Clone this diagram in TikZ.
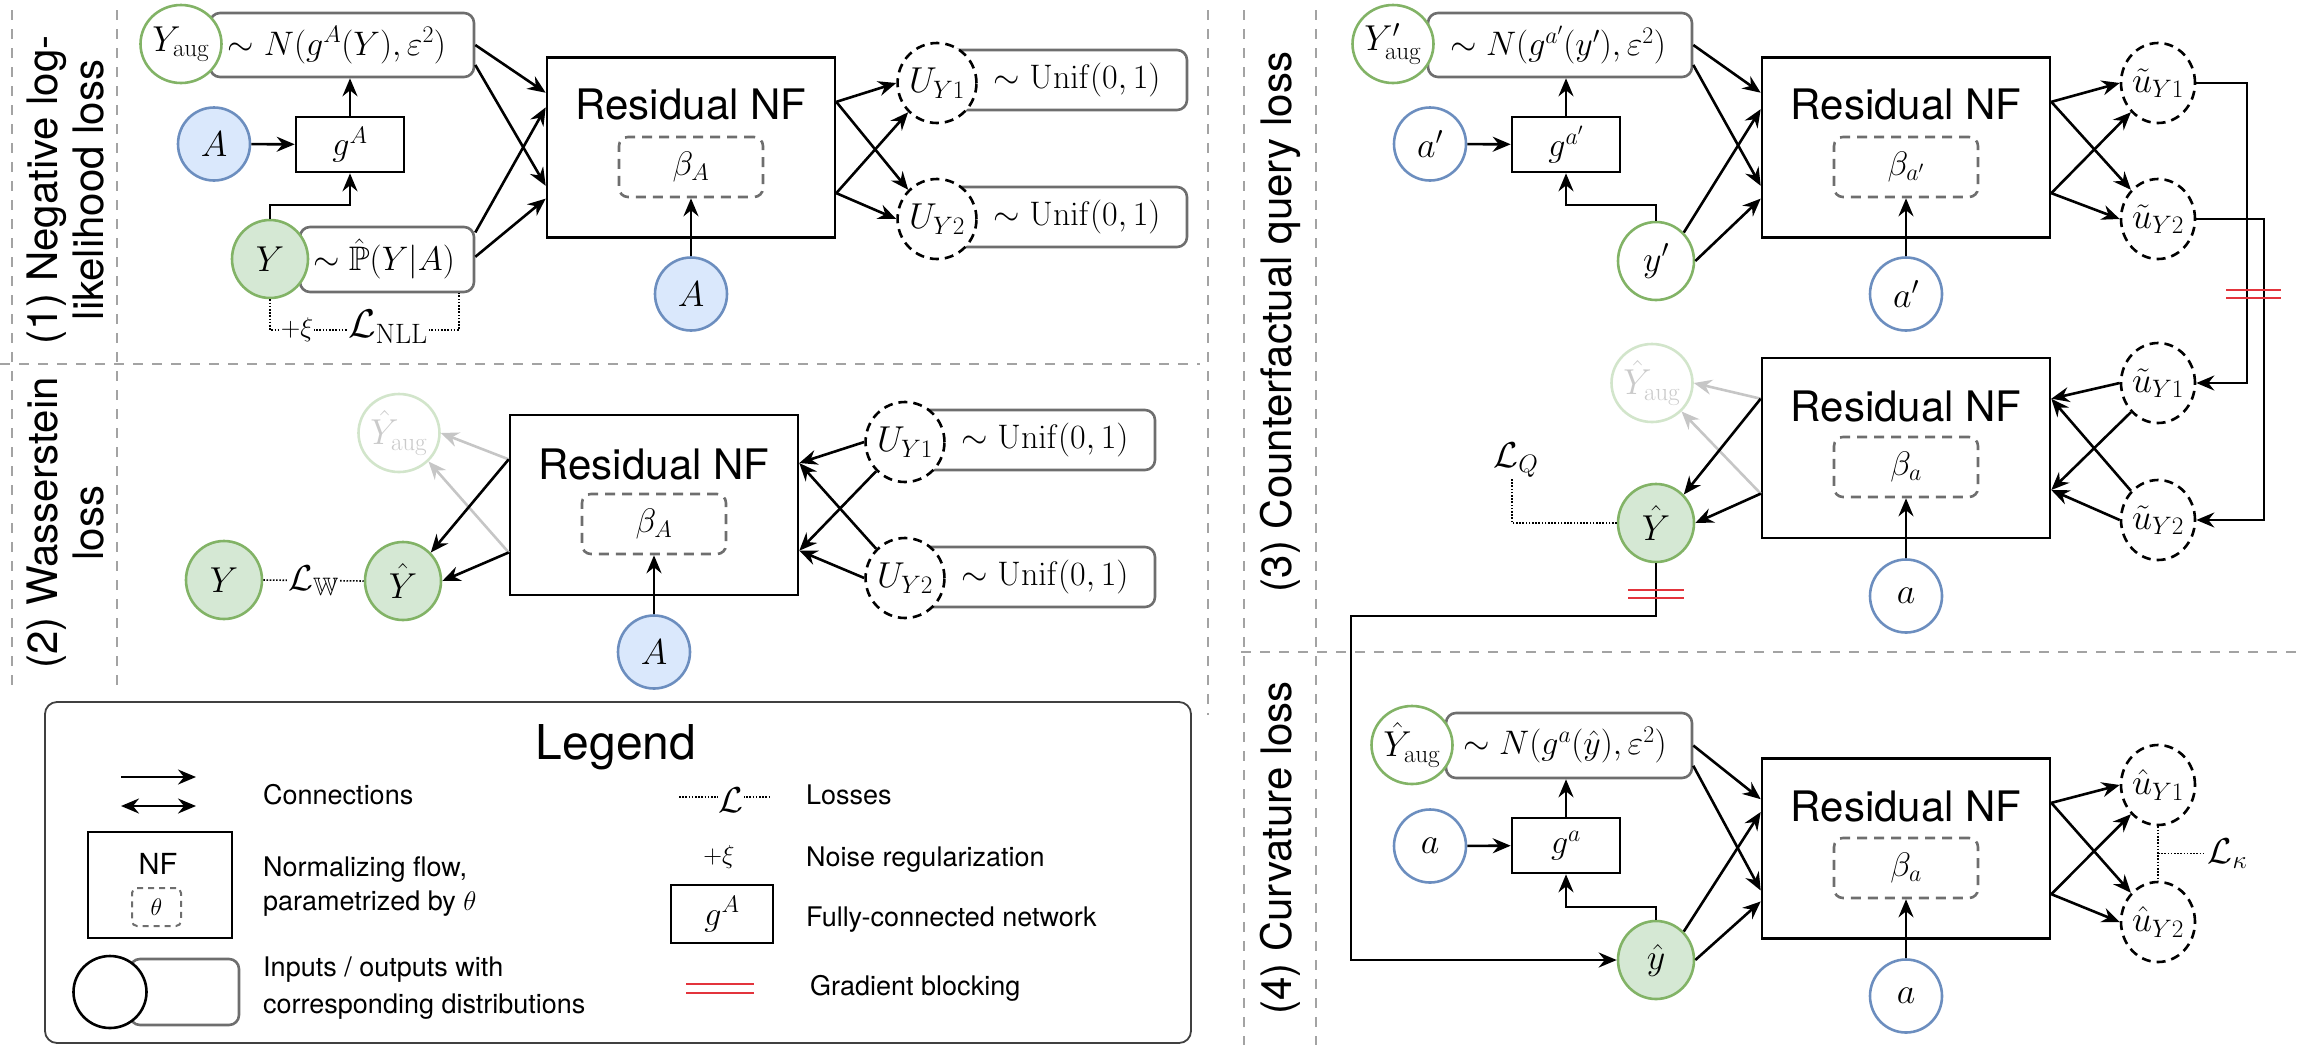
\RequirePackage{fix-cm}
\documentclass[tikz,border=0pt]{standalone}
\usepackage[no-math]{fontspec}
\usepackage{amsmath,amssymb}
\newfontfamily\hv{TeX Gyre Heros}
\usetikzlibrary{shapes.geometric,arrows.meta,calc}
\definecolor{gborder}{HTML}{82B366}
\definecolor{gfill}{HTML}{D5E8D4}
\definecolor{bborder}{HTML}{6C8EBF}
\definecolor{bfill}{HTML}{DAE8FC}
\definecolor{distgray}{HTML}{6E6E6E}
\definecolor{sepgray}{HTML}{A3A3A3}
\definecolor{fadeg}{HTML}{D2E5CB}
\definecolor{fadetext}{HTML}{CACACA}
\definecolor{fadearrow}{HTML}{C6C6C6}
\definecolor{blockred}{HTML}{E3343C}
\newcommand\mathsz{\fontsize{34}{40}\selectfont}
\newcommand\circsz{\fontsize{36}{40}\selectfont}
\newcommand\titlesz{\hv\fontsize{42}{46}\selectfont}
\newcommand\legsz{\hv\fontsize{27}{32}\selectfont}
\begin{document}
\begin{tikzpicture}[x=1pt,y=-1pt,
  >={Stealth[length=18pt,width=15pt,inset=6pt]},
  lw/.style={line width=2.6pt},
  arr/.style={lw,->},
  farr/.style={lw,->,draw=fadearrow},
  nfbox/.style={draw,lw,minimum width=288pt,minimum height=180pt,inner sep=0pt},
  nftitle/.style={font=\titlesz,inner sep=0pt},
  betabox/.style={draw=distgray,lw,dash pattern=on 10pt off 7pt,rounded corners=9pt,minimum width=144pt,minimum height=60pt,font=\mathsz,inner sep=0pt},
  gbox/.style={draw,lw,minimum width=108pt,minimum height=55pt,font=\mathsz,inner sep=0pt},
  distbox/.style={draw=distgray,lw,rounded corners=10pt,fill=white,inner sep=0pt},
  disttext/.style={font=\mathsz,inner sep=0pt},
  circ/.style={ellipse,lw,fill=white,minimum width=76pt,minimum height=78pt,inner sep=0pt,font=\circsz},
  gcirc/.style={circ,draw=gborder},
  gcircf/.style={circ,draw=gborder,fill=gfill},
  bcirc/.style={circ,draw=bborder,minimum width=72pt,minimum height=73pt},
  bcircf/.style={bcirc,fill=bfill},
  ucirc/.style={circ,draw=black,dash pattern=on 9pt off 6pt,minimum width=74pt,minimum height=80pt},
  fadecirc/.style={circ,draw=fadeg,text=fadetext},
  panelsep/.style={draw=sepgray,line width=2.6pt,dash pattern=on 10pt off 9pt},
  loss/.style={line width=1.6pt,dash pattern=on 1.6pt off 1.6pt},
  lossl/.style={fill=white,font=\circsz,inner sep=1pt},
  plabel/.style={rotate=90,font=\titlesz,align=center},
  gradblock/.style={draw=blockred,line width=2.4pt},
  legtext/.style={font=\legsz,anchor=west,inner sep=0pt},
  unifbox/.style={distbox,minimum width=240pt,minimum height=60pt}
]
\useasboundingbox (0,0) rectangle (2305,1045);

% ---------- panel separators ----------
\draw[panelsep] (12,10) -- (12,690);
\draw[panelsep] (117,10) -- (117,690);
\draw[panelsep] (0,364) -- (1200,364);
\draw[panelsep] (1208,10) -- (1208,715);
\draw[panelsep] (1244,10) -- (1244,1045);
\draw[panelsep] (1316,10) -- (1316,1045);
\draw[panelsep] (1241,652) -- (2305,652);

% ---------- panel labels ----------
\node[plabel] (lab1) at (66,190) {(1) Negative log-\\likelihood loss};
\node[plabel] (lab2) at (66,523) {(2) Wasserstein\\loss};
\node[plabel] (lab3) at (1280,322) {(3) Counterfactual query loss};
\node[plabel] (lab4) at (1280,848) {(4) Curvature loss};

% ================= PANEL 1 =================
\node[distbox,minimum width=264pt,minimum height=64pt] (d1a) at (342,45) {};
\node[disttext] (d1at) at (337,45) {$\sim N(g^A(Y),\varepsilon^2)$};
\node[gcirc] (ya1) at (181,44) {$Y_{\mathrm{aug}}$};
\node[bcircf] (A1) at (214,144) {$A$};
\node[gbox] (g1) at (350,144.5) {$g^A$};
\node[distbox,minimum width=174pt,minimum height=65pt] (d1y) at (387,259.5) {};
\node[disttext] (d1yt) at (384,259) {$\sim\hat{\mathbb{P}}(Y|A)$};
\node[gcircf] (Y1) at (270,259) {$Y$};
\node[nfbox] (nf1) at (691,147.5) {};
\node[nftitle] (t1) at (691,105) {Residual NF};
\node[betabox] (b1) at (691,167) {$\beta_A$};
\node[bcircf] (A1b) at (691,294) {$A$};
\node[unifbox] (un11) at (1067,80) {};
\node[unifbox] (un12) at (1067,217) {};
\node[disttext] (un11t) at (1077,80) {$\sim\mathrm{Unif}(0,1)$};
\node[disttext] (un12t) at (1077,217) {$\sim\mathrm{Unif}(0,1)$};
\node[ucirc] (u11) at (937,83) {$U_{Y1}$};
\node[ucirc] (u12) at (937,219) {$U_{Y2}$};

\path (nf1.north west) -- (nf1.south west) coordinate[pos=.2] (n1l1) coordinate[pos=.28] (n1l2) coordinate[pos=.71] (n1l3) coordinate[pos=.78] (n1l4);
\path (nf1.north east) -- (nf1.south east) coordinate[pos=.25] (n1r1) coordinate[pos=.75] (n1r2);
\path (d1a.north east) -- (d1a.south east) coordinate[pos=.5] (d1ar1) coordinate[pos=.8] (d1ar2);
\path (d1y.north east) -- (d1y.south east) coordinate[pos=.1] (d1yr1) coordinate[pos=.46] (d1yr2);

\draw[arr] (A1) -- (g1);
\draw[arr] (g1.north) -- (g1.north |- d1a.south);
\coordinate (c1) at (270,205);
\draw[arr] (Y1.north) -- (c1) -| (g1.south);
\draw[arr] (d1ar1) -- (n1l1);
\draw[arr] (d1ar2) -- (n1l3);
\draw[arr] (d1yr1) -- (n1l2);
\draw[arr] (d1yr2) -- (n1l4);
\draw[arr] (A1b.north) -- (b1.south);
\draw[arr] (n1r1) -- (u11.west);
\draw[arr] (n1r1) -- (u12.north west);
\draw[arr] (n1r2) -- (u11.south west);
\draw[arr] (n1r2) -- (u12.west);
\coordinate (l1a) at (270,330);
\coordinate (l1b) at (459,330);
\draw[loss] (Y1.south) -- (l1a) -- (l1b) -- (l1b |- d1y.south);
\node[lossl,font=\fontsize{27}{30}\selectfont] (xi1) at (297,330) {$+\xi$};
\node[lossl,font=\fontsize{40}{44}\selectfont] (lnll) at (388,327) {$\mathcal{L}_{\mathrm{NLL}}$};

% ================= PANEL 2 =================
\node[fadecirc] (yha2) at (399,433) {$\hat{Y}_{\mathrm{aug}}$};
\node[gcircf] (Y2) at (224,580) {$Y$};
\node[gcircf] (Yh2) at (403,581) {$\hat{Y}$};
\node[nfbox] (nf2) at (654,505) {};
\node[nftitle] (t2) at (654,464) {Residual NF};
\node[betabox] (b2) at (654,524) {$\beta_A$};
\node[bcircf] (A2) at (654,652) {$A$};
\node[unifbox] (un21) at (1035,440) {};
\node[unifbox] (un22) at (1035,577) {};
\node[disttext] (un21t) at (1045,440) {$\sim\mathrm{Unif}(0,1)$};
\node[disttext] (un22t) at (1045,577) {$\sim\mathrm{Unif}(0,1)$};
\node[ucirc] (u21) at (905,442) {$U_{Y1}$};
\node[ucirc] (u22) at (905,578) {$U_{Y2}$};

\path (nf2.north west) -- (nf2.south west) coordinate[pos=.25] (n2l1) coordinate[pos=.76] (n2l2);
\path (nf2.north east) -- (nf2.south east) coordinate[pos=.27] (n2r1) coordinate[pos=.75] (n2r2);
\draw[farr] (n2l1) -- (yha2.east);
\draw[farr] (n2l2) -- (yha2.south east);
\draw[arr] (n2l1) -- (Yh2.north east);
\draw[arr] (n2l2) -- (Yh2.east);
\draw[arr] (u21.west) -- (n2r1);
\draw[arr] (u21.south west) -- (n2r2);
\draw[arr] (u22.north west) -- (n2r1);
\draw[arr] (u22.west) -- (n2r2);
\draw[arr] (A2.north) -- (b2.south);
\draw[loss] (Y2.east) -- (Yh2.west) node[midway,lossl] (lw2) {$\mathcal{L}_{\mathbb{W}}$};

% ================= PANEL 3 (top) =================
\node[distbox,minimum width=264pt,minimum height=64pt] (d3a) at (1560,45) {};
\node[disttext] (d3at) at (1558,45) {$\sim N(g^{a'}(y'),\varepsilon^2)$};
\node[gcirc] (ya3) at (1393,44) {$Y'_{\mathrm{aug}}$};
\node[bcirc] (a3) at (1430,144) {$a'$};
\node[gbox] (g3) at (1566,144.5) {$g^{a'}$};
\node[gcirc] (yp3) at (1656,261) {$y'$};
\node[nfbox] (nf3) at (1906,147.5) {};
\node[nftitle] (t3) at (1906,105) {Residual NF};
\node[betabox] (b3) at (1906,167) {$\beta_{a'}$};
\node[bcirc] (a3b) at (1906,294) {$a'$};
\node[ucirc] (ut31) at (2158,83) {$\tilde{u}_{Y1}$};
\node[ucirc] (ut32) at (2158,219) {$\tilde{u}_{Y2}$};

\path (nf3.north west) -- (nf3.south west) coordinate[pos=.2] (n3l1) coordinate[pos=.29] (n3l2) coordinate[pos=.71] (n3l3) coordinate[pos=.78] (n3l4);
\path (nf3.north east) -- (nf3.south east) coordinate[pos=.25] (n3r1) coordinate[pos=.75] (n3r2);
\path (d3a.north east) -- (d3a.south east) coordinate[pos=.5] (d3ar1) coordinate[pos=.8] (d3ar2);
\draw[arr] (a3) -- (g3);
\draw[arr] (g3.north) -- (g3.north |- d3a.south);
\coordinate (c3) at (1656,205);
\draw[arr] (yp3.north) -- (c3) -| (g3.south);
\draw[arr] (d3ar1) -- (n3l1);
\draw[arr] (d3ar2) -- (n3l3);
\draw[arr] (yp3.north east) -- (n3l2);
\draw[arr] (yp3.east) -- (n3l4);
\draw[arr] (a3b.north) -- (b3.south);
\draw[arr] (n3r1) -- (ut31.west);
\draw[arr] (n3r1) -- (ut32.north west);
\draw[arr] (n3r2) -- (ut31.south west);
\draw[arr] (n3r2) -- (ut32.west);

% ================= PANEL 3 (bottom) =================
\node[fadecirc] (yha3) at (1652,383) {$\hat{Y}_{\mathrm{aug}}$};
\node[gcircf] (Yh3) at (1656,523) {$\hat{Y}$};
\node[nfbox] (nf3b) at (1906,448) {};
\node[nftitle] (t3b) at (1906,406) {Residual NF};
\node[betabox] (b3b) at (1906,467) {$\beta_a$};
\node[bcirc] (a3c) at (1906,596) {$a$};
\node[ucirc] (ut33) at (2158,383) {$\tilde{u}_{Y1}$};
\node[ucirc] (ut34) at (2158,520) {$\tilde{u}_{Y2}$};

\path (nf3b.north west) -- (nf3b.south west) coordinate[pos=.23] (n3bl1) coordinate[pos=.75] (n3bl2);
\path (nf3b.north east) -- (nf3b.south east) coordinate[pos=.23] (n3br1) coordinate[pos=.73] (n3br2);
\draw[farr] (n3bl1) -- (yha3.east);
\draw[farr] (n3bl2) -- (yha3.south east);
\draw[arr] (n3bl1) -- (Yh3.north east);
\draw[arr] (n3bl2) -- (Yh3.east);
\draw[arr] (ut33.west) -- (n3br1);
\draw[arr] (ut33.south west) -- (n3br2);
\draw[arr] (ut34.north west) -- (n3br1);
\draw[arr] (ut34.west) -- (n3br2);
\draw[arr] (a3c.north) -- (b3b.south);

% feedback lines
\coordinate (k1) at (2247,150);
\coordinate (k2) at (2264,300);
\draw[arr] (ut31.east) -| (k1) |- (ut33.east);
\draw[arr] (ut32.east) -| (k2) |- (ut34.east);
\draw[gradblock] (2226,290) -- (2281,290);
\draw[gradblock] (2226,298) -- (2281,298);

% loss Q
\coordinate (lq) at (1512,479);
\draw[loss] (Yh3.west) -| (lq);
\node[anchor=south,font=\circsz,inner sep=2pt] (lqt) at (1516,480) {$\mathcal{L}_Q$};

% ================= PANEL 4 =================
\node[distbox,minimum width=246pt,minimum height=65pt] (d4a) at (1569,745.5) {};
\node[disttext] (d4at) at (1565,745) {$\sim N(g^a(\hat{y}),\varepsilon^2)$};
\node[gcirc] (ya4) at (1412,745) {$\hat{Y}_{\mathrm{aug}}$};
\node[bcirc] (a4) at (1430,846) {$a$};
\node[gbox] (g4) at (1566,845.5) {$g^a$};
\node[gcircf] (yh4) at (1656,960) {$\hat{y}$};
\node[nfbox] (nf4) at (1906,848.5) {};
\node[nftitle] (t4) at (1906,806) {Residual NF};
\node[betabox] (b4) at (1906,868) {$\beta_a$};
\node[bcirc] (a4b) at (1906,996) {$a$};
\node[ucirc] (uh41) at (2158,785) {$\hat{u}_{Y1}$};
\node[ucirc] (uh42) at (2158,922) {$\hat{u}_{Y2}$};

\path (nf4.north west) -- (nf4.south west) coordinate[pos=.23] (n4l1) coordinate[pos=.3] (n4l2) coordinate[pos=.73] (n4l3) coordinate[pos=.79] (n4l4);
\path (nf4.north east) -- (nf4.south east) coordinate[pos=.25] (n4r1) coordinate[pos=.75] (n4r2);
\path (d4a.north east) -- (d4a.south east) coordinate[pos=.5] (d4ar1) coordinate[pos=.8] (d4ar2);
\draw[arr] (a4) -- (g4);
\draw[arr] (g4.north) -- (g4.north |- d4a.south);
\coordinate (c4) at (1656,907);
\draw[arr] (yh4.north) -- (c4) -| (g4.south);
\draw[arr] (d4ar1) -- (n4l1);
\draw[arr] (d4ar2) -- (n4l3);
\draw[arr] (yh4.north east) -- (n4l2);
\draw[arr] (yh4.east) -- (n4l4);
\draw[arr] (a4b.north) -- (b4.south);
\draw[arr] (n4r1) -- (uh41.west);
\draw[arr] (n4r1) -- (uh42.north west);
\draw[arr] (n4r2) -- (uh41.south west);
\draw[arr] (n4r2) -- (uh42.west);
\draw[loss] (uh41.south) -- (uh42.north);
\coordinate (lk) at ($(uh41.south)!.5!(uh42.north)$);
\draw[loss] (lk) -- ++(47,0) node[anchor=west,font=\circsz,inner sep=2pt] (lkt) {$\mathcal{L}_\kappa$};

% Yhat -> yhat with gradient block
\coordinate (t1c) at (1351,616);
\draw[arr] (Yh3.south) |- (t1c) |- (yh4.west);
\draw[gradblock] (1628,590) -- (1684,590);
\draw[gradblock] (1628,598) -- (1684,598);

% ================= LEGEND =================
\node[draw=black!75,line width=1.8pt,rounded corners=12pt,minimum width=1146pt,minimum height=341pt] (leg) at (618,872.5) {};
\node[font=\hv\fontsize{48}{52}\selectfont,inner sep=0pt] (legt) at (616,747) {Legend};
\coordinate (la1) at (121,777);
\coordinate (la2) at (196,777);
\coordinate (lb1) at (121,806);
\coordinate (lb2) at (196,806);
\draw[arr] (la1) -- (la2);
\draw[lw,<->] (lb1) -- (lb2);
\node[legtext] (lt1) at (263,795) {Connections};
\node[draw,lw,minimum width=144pt,minimum height=106pt] (lnf) at (160,885) {};
\node[font=\hv\fontsize{29}{32}\selectfont,inner sep=0pt] (lnft) at (158,864) {NF};
\node[draw=distgray,line width=2pt,dash pattern=on 6pt off 5pt,rounded corners=5pt,minimum width=49pt,minimum height=38pt,inner sep=0pt,font=\fontsize{24}{28}\selectfont] (lth) at (156.5,907) {$\theta$};
\node[legtext] (lt2) at (263,870) {Normalizing flow,};
\node[legtext] (lt3) at (263,904) {parametrized by $\theta$};
\node[distbox,minimum width=109pt,minimum height=66pt] (ldb) at (184.5,992) {};
\node[circ,draw=black,minimum width=73pt,minimum height=72pt] (lc) at (110,992) {};
\node[legtext] (lt4) at (263,970) {Inputs / outputs with};
\node[legtext] (lt5) at (263,1007) {corresponding distributions};
\coordinate (ll1) at (679,797);
\coordinate (ll2) at (771,797);
\draw[loss] (ll1) -- (ll2);
\node[lossl] (llt) at (731,800) {$\mathcal{L}$};
\node[legtext] (lt6) at (806,795) {Losses};
\node[font=\fontsize{26}{30}\selectfont,inner sep=0pt] (lxi) at (719,857) {$+\xi$};
\node[legtext] (lt7) at (806,860) {Noise regularization};
\node[gbox,minimum width=102pt,minimum height=58pt] (lg) at (722,914) {$g^A$};
\node[legtext] (lt8) at (806,920) {Fully-connected network};
\coordinate (lr1) at (686,984);
\coordinate (lr2) at (754,984);
\coordinate (lr3) at (686,993);
\coordinate (lr4) at (754,993);
\draw[gradblock] (lr1) -- (lr2);
\draw[gradblock] (lr3) -- (lr4);
\node[legtext] (lt9) at (810,988) {Gradient blocking};
\end{tikzpicture}
\end{document}
